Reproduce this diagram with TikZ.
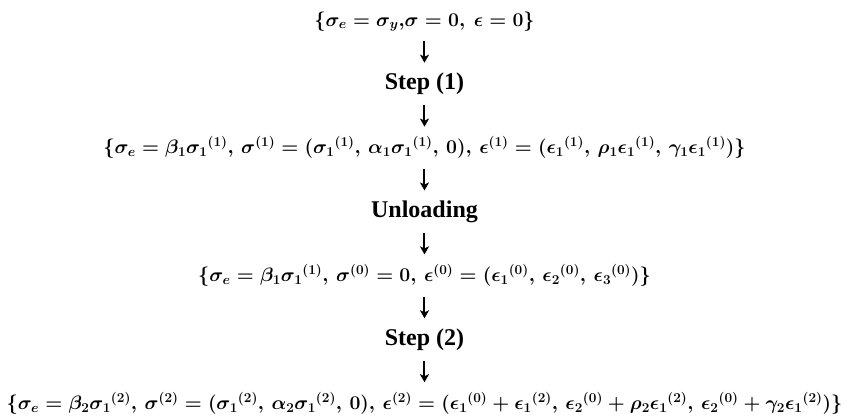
\RequirePackage{fix-cm}
\documentclass[tikz,border=0pt]{standalone}
\usepackage{fontspec}
\setmainfont{Liberation Serif}
\usepackage{amsmath}
\usepackage{tikz}
\usetikzlibrary{arrows.meta, positioning}

\begin{document}
\begin{tikzpicture}[
    rowtext/.style={inner sep=0pt, text height=27pt, text depth=15pt,
                    font=\fontsize{19.4}{24}\selectfont\bfseries\boldmath},
    steptext/.style={rowtext, font=\fontsize{24}{28}\selectfont\bfseries},
    flowarrow/.style={-{Stealth[length=8pt, width=9pt, inset=2pt]}, line width=2pt},
    node distance=21.5pt
  ]
    \useasboundingbox (-424.5pt,20pt) rectangle (422.5pt,-398pt);
    % states and steps, top to bottom
    \node[rowtext] (start) at (0,0) {$\{\sigma_e = \sigma_y{,}\boldsymbol{\sigma} = \mathbf{0},\ \boldsymbol{\epsilon} = \mathbf{0}\}$};
    \node[steptext, below=of start] (stepone) {Step (1)};
    \node[rowtext, below=of stepone] (stateone) {$\{\sigma_e = \beta_1{\sigma_1}^{(1)},\, \boldsymbol{\sigma}^{(1)} = ({\sigma_1}^{(1)},\, \alpha_1{\sigma_1}^{(1)},\, 0),\, \boldsymbol{\epsilon}^{(1)} = ({\epsilon_1}^{(1)},\, \rho_1{\epsilon_1}^{(1)},\, \gamma_1{\epsilon_1}^{(1)})\}$};
    \node[steptext, below=of stateone] (unload) {Unloading};
    \node[rowtext, below=of unload] (statezero) {$\{\sigma_e = \beta_1{\sigma_1}^{(1)},\, \boldsymbol{\sigma}^{(0)} = \mathbf{0},\, \boldsymbol{\epsilon}^{(0)} = ({\epsilon_1}^{(0)},\, {\epsilon_2}^{(0)},\, {\epsilon_3}^{(0)})\}$};
    \node[steptext, below=of statezero] (steptwo) {Step (2)};
    \node[rowtext, below=of steptwo] (statetwo) {$\{\sigma_e = \beta_2{\sigma_1}^{(2)},\, \boldsymbol{\sigma}^{(2)} = ({\sigma_1}^{(2)},\, \alpha_2{\sigma_1}^{(2)},\, 0),\, \boldsymbol{\epsilon}^{(2)} = ({\epsilon_1}^{(0)} + {\epsilon_1}^{(2)},\, {\epsilon_2}^{(0)} + \rho_2{\epsilon_1}^{(2)},\, {\epsilon_2}^{(0)} + \gamma_2{\epsilon_1}^{(2)})\}$};
    % arrows
    \draw[flowarrow] (start) -- (stepone);
    \draw[flowarrow] (stepone) -- (stateone);
    \draw[flowarrow] (stateone) -- (unload);
    \draw[flowarrow] (unload) -- (statezero);
    \draw[flowarrow] (statezero) -- (steptwo);
    \draw[flowarrow] (steptwo) -- (statetwo);
\end{tikzpicture}
\end{document}
